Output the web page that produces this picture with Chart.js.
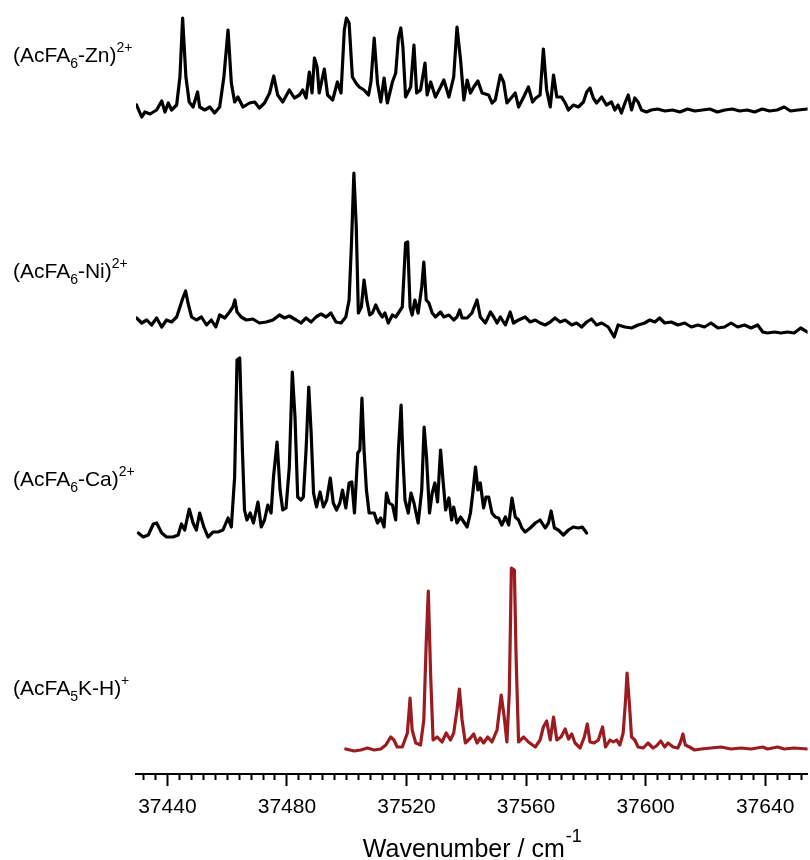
<!DOCTYPE html>
<html>
<head>
<meta charset="utf-8">
<script src="https://cdn.jsdelivr.net/npm/chart.js@4.4.0/dist/chart.umd.min.js"></script>
<style>
  html, body { margin: 0; padding: 0; background: #fff; }
  canvas { display: block; }
</style>
</head>
<body>
<canvas id="spectra" width="810" height="860"></canvas>
<script>
// wavenumber (cm-1) and intensity (arb. units) for each trace
const wnZn = [37429.7, 37431.4, 37432.5, 37434.2, 37436.4, 37438.1, 37439.2, 37440.3, 37441.4, 37443.1,
  37444.2, 37445.1, 37446.2, 37447.3, 37448.6, 37450.1, 37450.8, 37452.5, 37454.2, 37455.8,
  37457.5, 37458.9, 37460.3, 37461.4, 37462.5, 37463.6, 37465.3, 37467.5, 37469.2, 37470.8,
  37472.5, 37474.2, 37475.6, 37476.9, 37478.6, 37480.8, 37482.5, 37484.2, 37485.3, 37486.4,
  37487.5, 37488.4, 37489.2, 37490.1, 37490.8, 37492.5, 37493.6, 37495.3, 37496.9, 37498.1,
  37499.2, 37499.9, 37500.8, 37501.9, 37503.1, 37504.2, 37505.8, 37507.3, 37508.1, 37509.2,
  37510.3, 37511.4, 37512.5, 37513.6, 37515.3, 37516.4, 37517.3, 37518.1, 37518.8, 37519.7,
  37521.4, 37522.5, 37523.4, 37524.7, 37526.2, 37526.9, 37528.1, 37529.7, 37531.4, 37532.5,
  37534.2, 37535.8, 37536.9, 37538.1, 37539.2, 37540.3, 37541.4, 37542.5, 37543.9, 37545.3,
  37547.5, 37548.6, 37549.7, 37551.4, 37552.5, 37553.6, 37555.3, 37556.4, 37557.5, 37559.2,
  37560.8, 37562.2, 37563.3, 37564.7, 37565.8, 37566.9, 37568.1, 37569.2, 37570.3, 37571.9,
  37573.1, 37574.2, 37575.8, 37577.5, 37579.2, 37580.3, 37581.4, 37582.5, 37583.6, 37585.3,
  37586.9, 37588.6, 37589.7, 37590.8, 37591.9, 37593.1, 37594.2, 37595.3, 37596.4, 37597.5,
  37598.6, 37600.3, 37601.9, 37604.0, 37606.5, 37609.0, 37611.5, 37614.0, 37616.5, 37619.0,
  37621.5, 37624.0, 37626.5, 37629.0, 37631.5, 37634.0, 37636.5, 37639.0, 37641.5, 37644.0,
  37646.4, 37648.5, 37651.0, 37654.2];
const intZn = [5, -7, -2, -4, 0, 9, -2, 7, 0, 5,
  33, 92, 33, 8, 3, 18, 3, 0, 3, -3,
  3, 33, 80, 27, 8, 13, 3, 7, 8, 2,
  7, 17, 34, 15, 8, 20, 12, 15, 20, 12,
  38, 17, 52, 43, 17, 41, 15, 10, 28, 17,
  80, 92, 87, 33, 27, 23, 20, 15, 28, 72,
  27, 8, 32, 7, 28, 37, 72, 82, 63, 13,
  23, 65, 17, 20, 47, 15, 28, 13, 23, 30,
  13, 33, 83, 50, 10, 30, 17, 23, 29, 17,
  15, 7, 10, 35, 28, 7, 13, 17, 3, 13,
  23, 8, 12, 15, 61, 20, 3, 35, 13, 13,
  7, 0, 5, 3, 8, 18, 22, 12, 7, 13,
  5, 8, 0, 5, -3, 7, 15, 0, 12, 8,
  0, -2, 0, 1, -1, 0, -2, 1, -1, 0,
  1, -2, 0, 1, -1, 0, -2, 1, -1, 0,
  3, -1, 0, 1];

const wnNi = [37429.7, 37431.4, 37433.1, 37434.7, 37436.4, 37438.1, 37439.7, 37441.4, 37443.1, 37444.2,
  37445.3, 37446.1, 37446.9, 37448.1, 37449.7, 37451.4, 37453.1, 37454.7, 37456.2, 37457.5,
  37459.2, 37460.8, 37461.9, 37462.6, 37463.3, 37464.7, 37466.4, 37468.6, 37470.8, 37473.1,
  37475.3, 37477.5, 37479.2, 37480.8, 37483.1, 37484.7, 37486.4, 37488.1, 37489.7, 37491.4,
  37493.1, 37494.7, 37496.4, 37498.1, 37499.7, 37500.8, 37501.6, 37502.4, 37503.2, 37503.9,
  37504.9, 37505.8, 37506.7, 37507.7, 37508.6, 37509.7, 37510.8, 37511.9, 37512.8, 37513.9,
  37515.3, 37516.4, 37517.5, 37518.6, 37519.7, 37520.4, 37521.2, 37521.9, 37522.8, 37523.9,
  37525.1, 37525.8, 37526.6, 37527.5, 37528.6, 37529.7, 37531.4, 37532.5, 37534.2, 37535.8,
  37536.9, 37537.8, 37538.6, 37540.3, 37541.9, 37543.6, 37544.7, 37546.4, 37548.1, 37549.2,
  37550.3, 37551.4, 37553.1, 37554.7, 37555.8, 37557.5, 37559.7, 37561.4, 37563.1, 37564.7,
  37566.4, 37568.1, 37569.7, 37571.4, 37573.1, 37575.3, 37576.9, 37578.6, 37580.3, 37581.9,
  37583.6, 37585.3, 37587.5, 37589.5, 37590.8, 37593.1, 37595.3, 37597.5, 37599.7, 37601.4,
  37603.1, 37604.7, 37606.4, 37608.6, 37610.8, 37613.1, 37615.3, 37617.5, 37619.7, 37621.9,
  37624.2, 37626.4, 37628.6, 37630.8, 37633.1, 37635.3, 37637.5, 37639.2, 37640.8, 37643.1,
  37645.3, 37647.5, 37649.7, 37651.9, 37654.2];
const intNi = [2, -3, 0, -5, 2, -7, 0, -2, 3, 13,
  23, 29, 17, 3, 0, 3, -5, 0, -7, 5,
  2, 8, 13, 20, 8, 3, 0, 1, -3, -2,
  0, 5, 2, 4, 0, -3, 2, -2, 3, 6,
  3, 7, -2, -3, 3, 20, 77, 147, 93, 7,
  13, 40, 20, 5, 7, 15, 8, 3, 7, -3,
  5, 3, 8, 13, 77, 78, 13, 5, 20, 7,
  33, 58, 20, 17, 7, 3, 8, 3, 5, 0,
  3, 10, 2, 2, 7, 20, 3, -3, 8, 3,
  -3, 3, -5, 8, -3, 0, 3, -2, 0, -3,
  -5, -2, 2, -2, 0, -5, -3, -7, -2, 1,
  -5, -3, -7, -17, -5, -7, -8, -5, -3, 0,
  -2, 2, -3, -2, -5, -3, -7, -5, -7, -3,
  -8, -7, -3, -7, -5, -8, -5, -12, -13, -12,
  -13, -12, -13, -8, -12];

const wnCa = [37430.3, 37431.9, 37433.6, 37435.3, 37436.4, 37438.1, 37439.7, 37441.9, 37443.6, 37444.7,
  37445.8, 37447.3, 37448.6, 37449.7, 37450.8, 37452.2, 37453.6, 37455.3, 37456.9, 37458.6,
  37460.3, 37461.4, 37462.5, 37463.3, 37464.2, 37465.1, 37465.8, 37466.6, 37467.7, 37468.8,
  37470.3, 37471.4, 37472.5, 37473.6, 37474.7, 37475.5, 37476.7, 37477.7, 37478.6, 37479.7,
  37480.8, 37481.8, 37482.7, 37483.6, 37484.7, 37485.5, 37486.4, 37487.3, 37488.1, 37488.9,
  37489.9, 37491.1, 37492.2, 37493.3, 37494.5, 37495.5, 37496.6, 37497.7, 37498.6, 37499.7,
  37500.8, 37501.7, 37502.6, 37503.7, 37504.4, 37505.1, 37505.8, 37506.6, 37507.5, 37509.2,
  37510.3, 37511.4, 37512.5, 37513.3, 37514.2, 37515.3, 37516.4, 37517.3, 37518.2, 37518.8,
  37519.5, 37520.6, 37521.5, 37522.5, 37523.9, 37525.1, 37525.9, 37526.7, 37527.7, 37528.6,
  37529.5, 37530.4, 37531.4, 37532.3, 37533.1, 37534.2, 37535.1, 37535.8, 37536.9, 37538.1,
  37539.2, 37540.3, 37541.4, 37542.3, 37543.1, 37543.9, 37544.7, 37545.8, 37546.6, 37547.5,
  37548.6, 37549.7, 37550.8, 37551.9, 37553.1, 37554.2, 37555.3, 37556.4, 37557.5, 37558.6,
  37559.7, 37561.4, 37563.1, 37564.7, 37566.4, 37567.5, 37568.4, 37569.5, 37570.8, 37572.5,
  37574.2, 37575.8, 37577.5, 37578.8, 37580.3];
const intCa = [2, -2, 0, 11, 12, 2, -2, -2, 0, 11,
  5, 26, 12, 5, 22, 8, -2, 3, 3, 5,
  17, 8, 58, 175, 177, 85, 25, 15, 22, 12,
  33, 8, 15, 30, 22, 58, 93, 45, 25, 27,
  68, 163, 118, 38, 35, 38, 85, 148, 102, 42,
  28, 43, 28, 35, 57, 32, 25, 32, 45, 27,
  52, 53, 22, 82, 85, 137, 85, 45, 22, 22,
  12, 17, 8, 42, 32, 30, 15, 85, 130, 78,
  35, 22, 42, 32, 12, 45, 108, 78, 22, 42,
  52, 33, 85, 52, 25, 37, 15, 28, 12, 18,
  13, 8, 22, 45, 68, 45, 52, 27, 38, 38,
  22, 18, 17, 10, 18, 10, 37, 18, 15, 7,
  3, 7, 12, 15, 7, 12, 24, 7, 5, 0,
  5, 8, 7, 8, 2];

const wnK = [37499.7, 37502.5, 37504.7, 37506.9, 37509.2, 37511.4, 37513.1, 37514.7, 37515.8, 37516.9,
  37518.6, 37520.3, 37521.2, 37521.9, 37523.1, 37524.7, 37525.8, 37526.6, 37527.3, 37528.1,
  37528.9, 37530.3, 37531.9, 37533.3, 37534.7, 37535.8, 37536.9, 37537.7, 37538.6, 37539.7,
  37541.4, 37542.5, 37543.6, 37544.7, 37545.8, 37547.2, 37548.6, 37550.3, 37551.7, 37552.7,
  37553.6, 37554.4, 37555.1, 37556.1, 37556.7, 37557.5, 37559.2, 37560.8, 37563.1, 37564.7,
  37565.8, 37566.9, 37568.1, 37569.2, 37570.3, 37571.7, 37573.1, 37574.2, 37575.3, 37576.4,
  37578.1, 37579.5, 37580.5, 37581.4, 37582.8, 37584.2, 37585.6, 37586.6, 37588.1, 37589.2,
  37590.3, 37591.4, 37592.5, 37593.3, 37593.8, 37594.5, 37595.3, 37596.4, 37597.5, 37599.2,
  37600.8, 37602.5, 37603.6, 37605.1, 37606.4, 37607.5, 37609.2, 37610.8, 37611.7, 37612.5,
  37613.3, 37614.7, 37616.4, 37618.6, 37621.9, 37625.2, 37628.6, 37631.9, 37635.3, 37639.2,
  37640.8, 37644.2, 37646.4, 37649.7, 37654.2];
const intK = [-1, -3, -2, 0, -2, -1, 3, 11, 8, 1,
  1, 15, 50, 18, 5, 3, 28, 105, 157, 71,
  8, 11, 6, 15, 8, 15, 38, 59, 28, 5,
  10, 14, 5, 10, 5, 11, 6, 18, 53, 31,
  6, 55, 180, 178, 88, 6, 11, 6, 1, 8,
  21, 27, 8, 31, 8, 11, 19, 9, 14, 5,
  0, 11, 24, 6, 5, 8, 21, 1, 8, 6,
  8, 3, 15, 48, 75, 48, 11, 8, 1, 0,
  5, 0, 2, 7, 1, 5, 1, 0, 6, 14,
  3, 1, -2, -1, 0, 1, -1, 0, -1, 1,
  -1, 1, -1, 0, -1];

const tickLabels = [37440, 37480, 37520, 37560, 37600, 37640];

// trace labels: [text, 'n' | 'sub' | 'sup']
const traceNames = [
  [['(AcFA', 'n'], ['6', 'sub'], ['-Zn)', 'n'], ['2+', 'sup']],
  [['(AcFA', 'n'], ['6', 'sub'], ['-Ni)', 'n'], ['2+', 'sup']],
  [['(AcFA', 'n'], ['6', 'sub'], ['-Ca)', 'n'], ['2+', 'sup']],
  [['(AcFA', 'n'], ['5', 'sub'], ['K-H)', 'n'], ['+', 'sup']],
];

const FONT = '"Liberation Sans", Arial, Helvetica, sans-serif';
const AREA_BOTTOM = 774;            // pixel row of the x axis
const baselines = [110, 320, 535, 748]; // pixel row of each trace's zero
const labelRows = [62, 278, 486, 695];

const pts = (xs, ys) => xs.map((x, i) => ({ x, y: ys[i] }));
// each trace gets its own hidden y axis, offset so its zero sits at its baseline
const offsetAxis = (b) => ({ type: 'linear', display: false, min: b - AREA_BOTTOM, max: b });

const line = (data, axis, color) => ({
  data, yAxisID: axis, borderColor: color, borderWidth: 3.2,
  pointRadius: 0, tension: 0, borderJoinStyle: 'round', borderCapStyle: 'round',
});

const textPlugin = {
  id: 'textPlugin',
  afterDraw(chart) {
    const ctx = chart.ctx;
    ctx.save();
    ctx.fillStyle = '#000';
    ctx.textBaseline = 'alphabetic';
    ctx.textAlign = 'left';
    traceNames.forEach((parts, i) => {
      let x = 13;
      const y = labelRows[i];
      parts.forEach(([t, k]) => {
        ctx.font = (k === 'n' ? 21 : 14) + 'px ' + FONT;
        const dy = k === 'sub' ? 6 : k === 'sup' ? -10 : 0;
        ctx.fillText(t, x, y + dy);
        x += ctx.measureText(t).width;
      });
    });

    // axis title with superscript
    const a = chart.chartArea;
    const main = 'Wavenumber / cm';
    const sup = '-1';
    ctx.font = '25px ' + FONT;
    const w1 = ctx.measureText(main).width;
    ctx.font = '18px ' + FONT;
    const w2 = ctx.measureText(sup).width;
    let x0 = (a.left + a.right) / 2 - (w1 + w2) / 2;
    ctx.font = '25px ' + FONT;
    ctx.fillText(main, x0, 857);
    ctx.font = '18px ' + FONT;
    ctx.fillText(sup, x0 + w1 + 1, 842);
    ctx.restore();
  }
};

new Chart(document.getElementById('spectra'), {
  type: 'line',
  data: {
    datasets: [
      line(pts(wnZn, intZn), 'yZn', '#000000'),
      line(pts(wnNi, intNi), 'yNi', '#000000'),
      line(pts(wnCa, intCa), 'yCa', '#000000'),
      line(pts(wnK, intK), 'yK', '#9a1c20'),
    ],
  },
  options: {
    responsive: false,
    animation: false,
    events: [],
    layout: { padding: { left: 136, right: 0, top: 0, bottom: 30.8 } },
    scales: {
      x: {
        type: 'linear',
        min: 37429.5,
        max: 37654.2,
        afterBuildTicks: (axis) => {
          const t = [];
          for (let v = 37432; v <= 37652; v += 4) t.push({ value: v });
          axis.ticks = t;
        },
        border: { display: true, color: '#000', width: 2 },
        grid: {
          display: true,
          drawOnChartArea: false,
          drawTicks: true,
          tickLength: 12,
          tickWidth: 2,
          tickColor: '#000',
          tickBorderDash: (ctx) => tickLabels.includes(ctx.tick && ctx.tick.value) ? [] : [5, 40],
        },
        ticks: {
          autoSkip: false,
          maxRotation: 0,
          minRotation: 0,
          padding: 9,
          color: '#000',
          font: { family: FONT, size: 21 },
          callback: (v) => tickLabels.includes(v) ? String(v) : '',
        },
      },
      yZn: offsetAxis(baselines[0]),
      yNi: offsetAxis(baselines[1]),
      yCa: offsetAxis(baselines[2]),
      yK: offsetAxis(baselines[3]),
    },
    plugins: {
      legend: { display: false },
      tooltip: { enabled: false },
    },
  },
  plugins: [textPlugin],
});
</script>
</body>
</html>
